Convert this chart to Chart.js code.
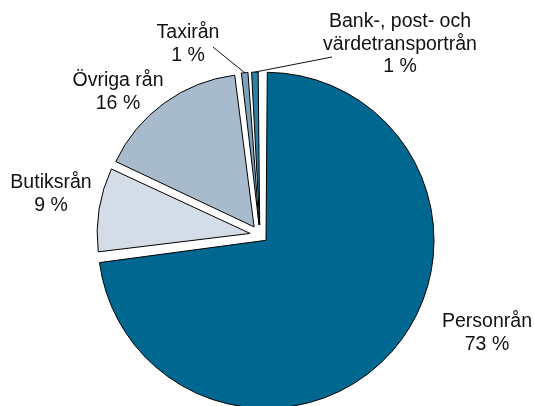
<!DOCTYPE html>
<html>
<head>
<meta charset="utf-8">
<script src="https://cdn.jsdelivr.net/npm/chart.js@4"></script>
<style>
  html, body { margin: 0; padding: 0; background: #fff; overflow: hidden; }
  #wrap { width: 534px; height: 406px; }
</style>
</head>
<body>
<div id="wrap"><canvas id="robberyChart" width="534" height="406"></canvas></div>
<script>
const categories = ['Personrån', 'Butiksrån', 'Övriga rån', 'Taxirån', 'Bank-, post- och värdetransportrån'];
const shares = [73, 9, 16, 1, 1];
const labelLines = [
    ['Personrån', '73 %'],
    ['Butiksrån', '9 %'],
    ['Övriga rån', '16 %'],
    ['Taxirån', '1 %'],
    ['Bank-, post- och', 'värdetransportrån', '1 %']
];

const sliceColors = ['#006890', '#d4dde7', '#a7bbcc', '#7ea2bc', '#2c80a6'];
// Chart.js v4 moves an arc by offset / 4
const sliceOffsets = [32, 40, 40, 40, 40];
const sliceRadius = [168, 153, 153, 153, 153];

// where each label's text block is centred, and where its leader line starts (if any)
const labelLayout = [
    { x: 487, y: 322 },
    { x: 51, y: 183 },
    { x: 118, y: 81 },
    { x: 188, y: 33, line: { x: 213, y: 47 } },
    { x: 400, y: 22, line: { x: 332, y: 57 } }
];

// the arc draw adds offset/4 * fix to the radius, take it back off so the drawn radius is the one wanted
const radiusPlugin = {
    id: 'sliceRadius',
    afterDatasetsUpdate(chart) {
        const meta = chart.getDatasetMeta(0);
        meta.data.forEach(function (arc, i) {
            const c = arc.endAngle - arc.startAngle;
            const fix = 1 - Math.sin(Math.min(Math.PI, c));
            arc.outerRadius = sliceRadius[i] - (sliceOffsets[i] / 4) * fix;
        });
    }
};

const labelPlugin = {
    id: 'sliceLabels',
    afterDatasetsDraw(chart) {
        const ctx = chart.ctx;
        const meta = chart.getDatasetMeta(0);
        ctx.save();
        ctx.font = '19.5px "Liberation Sans", Arial, sans-serif';
        ctx.fillStyle = '#111';
        ctx.textAlign = 'center';
        ctx.textBaseline = 'middle';
        const lineHeight = 22.5;
        labelLines.forEach(function (lines, i) {
            const pos = labelLayout[i];
            lines.forEach(function (t, k) {
                ctx.fillText(t, pos.x, pos.y + k * lineHeight);
            });
            if (pos.line) {
                const arc = meta.data[i];
                const mid = (arc.startAngle + arc.endAngle) / 2;
                const r = sliceRadius[i] + sliceOffsets[i] / 4;
                ctx.beginPath();
                ctx.strokeStyle = '#111';
                ctx.lineWidth = 1;
                ctx.moveTo(pos.line.x, pos.line.y);
                ctx.lineTo(arc.x + Math.cos(mid) * r, arc.y + Math.sin(mid) * r);
                ctx.stroke();
            }
        });
        ctx.restore();
    }
};

new Chart(document.getElementById('robberyChart'), {
    type: 'pie',
    data: {
        labels: categories,
        datasets: [{
            data: shares,
            backgroundColor: sliceColors,
            borderColor: '#000',
            borderWidth: 1,
            offset: sliceOffsets,
            clip: false
        }]
    },
    options: {
        responsive: false,
        animation: false,
        radius: 168,
        layout: { padding: { left: 0, right: 14, top: 64, bottom: 0 } },
        plugins: {
            legend: { display: false },
            tooltip: { enabled: false }
        }
    },
    plugins: [radiusPlugin, labelPlugin]
});
</script>
</body>
</html>
